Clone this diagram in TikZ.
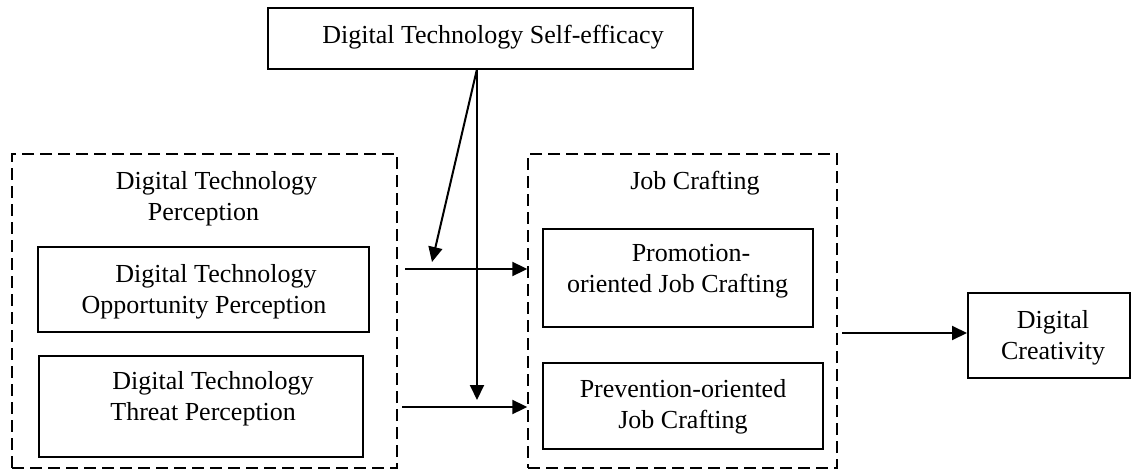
\documentclass[tikz,border=0pt]{standalone}
\usepackage{fontspec}
\setmainfont{Liberation Serif}
\usetikzlibrary{arrows.meta,calc}
\begin{document}
\begin{tikzpicture}[x=0.5pt,y=-0.5pt,
  box/.style={draw,line width=1pt,rectangle,inner sep=0pt},
  group/.style={draw,line width=0.7pt,dash pattern=on 6pt off 3pt,rectangle,inner sep=0pt},
  txt/.style={inner sep=0pt,align=center,font=\fontsize{13pt}{15.5pt}\selectfont},
  arr/.style={line width=1pt,-{Triangle[length=7.5pt,width=7pt]}}]
\useasboundingbox (0,0) rectangle (1131,471);

% moderator
\node[box,minimum width=212.5pt,minimum height=30.5pt] (se) at (480.5,38.5) {};
\node[txt] (se-t) at (493,37) {Digital Technology Self-efficacy};

% independent variables
\node[group,minimum width=192.5pt,minimum height=157pt] (dtp) at (204.5,311) {};
\node[txt] (dtp-t) at (203.5,199) {\hspace*{13pt}Digital Technology\\Perception};
\node[box,minimum width=165.5pt,minimum height=42.5pt] (opp) at (203.5,289.5) {};
\node[txt] (opp-t) at (204,292) {\hspace*{12pt}Digital Technology\\Opportunity Perception};
\node[box,minimum width=162pt,minimum height=50.5pt] (thr) at (201,406.5) {};
\node[txt,align=left,anchor=west] (thr-t) at (110,399) {\hspace*{1pt}Digital Technology\\Threat Perception};

% mediators
\node[group,minimum width=154.5pt,minimum height=157pt] (jc) at (682.5,311) {};
\node[txt] (jc-t) at (695,183) {Job Crafting};
\node[box,minimum width=135pt,minimum height=49pt] (pro) at (678,278) {};
\node[txt] (pro-t) at (677.5,271) {\hspace*{13.5pt}Promotion-\\oriented Job Crafting};
\node[box,minimum width=140pt,minimum height=43pt] (pre) at (683,406) {};
\node[txt] (pre-t) at (683,407) {Prevention-oriented\\Job Crafting};

% outcome
\node[box,minimum width=81pt,minimum height=42.5pt] (dc) at (1049,335.5) {};
\node[txt] (dc-t) at (1053,338) {Digital\\Creativity};

% connectors
\coordinate (s1) at (405,269);
\coordinate (s2) at (402,407);
\coordinate (s3) at (842,333);
\coordinate (top) at (477,69);
\coordinate (mod1) at (432,262);
\coordinate (mod2) at (477,400);

\draw[arr] (s1) -- (s1 -| jc.west);
\draw[arr] (s2) -- (s2 -| jc.west);
\draw[arr] (s3) -- (s3 -| dc.west);
\draw[arr] (top) -- (mod2);
\draw[arr] (top) -- (mod1);
\end{tikzpicture}
\end{document}
